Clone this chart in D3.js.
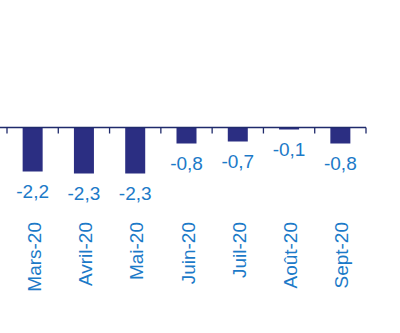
<!DOCTYPE html>
<html>
<head>
<meta charset="utf-8">
<script src="https://cdn.jsdelivr.net/npm/d3@7/dist/d3.min.js"></script>
<style>
  html, body { margin: 0; padding: 0; background: #fff; }
  svg { display: block; }
</style>
</head>
<body>
<svg id="chart" width="400" height="333"></svg>
<script>
const months = ["Mars-20", "Avril-20", "Mai-20", "Juin-20", "Juil-20", "Août-20", "Sept-20"];
const values = [-2.2, -2.3, -2.3, -0.8, -0.7, -0.1, -0.8];
const valueLabels = ["-2,2", "-2,3", "-2,3", "-0,8", "-0,7", "-0,1", "-0,8"];

const barColor = "#2B2E82";
const axisColor = "#1F2A6B";
const textColor = "#1C7AC8";
const fontFamily = "Arial, 'Liberation Sans', sans-serif";

const svg = d3.select("#chart");

const x = d3.scaleBand()
  .domain(months)
  .range([7, 366])
  .paddingInner(0.61)
  .paddingOuter(0.305);

const y = d3.scaleLinear()
  .domain([0, -2.3])
  .range([127.5, 173.5]);

// bars hang down from the zero line
svg.append("g")
  .selectAll("rect")
  .data(values)
  .join("rect")
  .attr("x", (d, i) => x(months[i]))
  .attr("width", x.bandwidth())
  .attr("y", y(0))
  .attr("height", d => y(d) - y(0))
  .attr("fill", barColor);

// zero axis with category separators
const axisG = svg.append("g").attr("transform", `translate(0,${y(0)})`);
axisG.append("line")
  .attr("x1", 0).attr("x2", 366)
  .attr("stroke", axisColor).attr("stroke-width", 1.3);

const edges = months.map(m => x(m) - x.step() * x.paddingInner() / 2);
edges.push(366);
axisG.selectAll("line.sep")
  .data(edges)
  .join("line")
  .attr("class", "sep")
  .attr("x1", d => d).attr("x2", d => d)
  .attr("y1", 0).attr("y2", 6)
  .attr("stroke", axisColor).attr("stroke-width", 1.3);

// value labels under each bar
svg.append("g")
  .selectAll("text")
  .data(values)
  .join("text")
  .attr("x", (d, i) => x(months[i]) + x.bandwidth() / 2)
  .attr("y", d => y(d) + 26.5)
  .attr("text-anchor", "middle")
  .attr("font-family", fontFamily)
  .attr("font-size", 19)
  .attr("fill", textColor)
  .text((d, i) => valueLabels[i]);

// rotated month labels
svg.append("g")
  .selectAll("text")
  .data(months)
  .join("text")
  .attr("transform", d => `translate(${x(d) + x.bandwidth() / 2 + 8},222) rotate(-90)`)
  .attr("text-anchor", "end")
  .attr("font-family", fontFamily)
  .attr("font-size", 19)
  .attr("fill", textColor)
  .text(d => d);
</script>
</body>
</html>
